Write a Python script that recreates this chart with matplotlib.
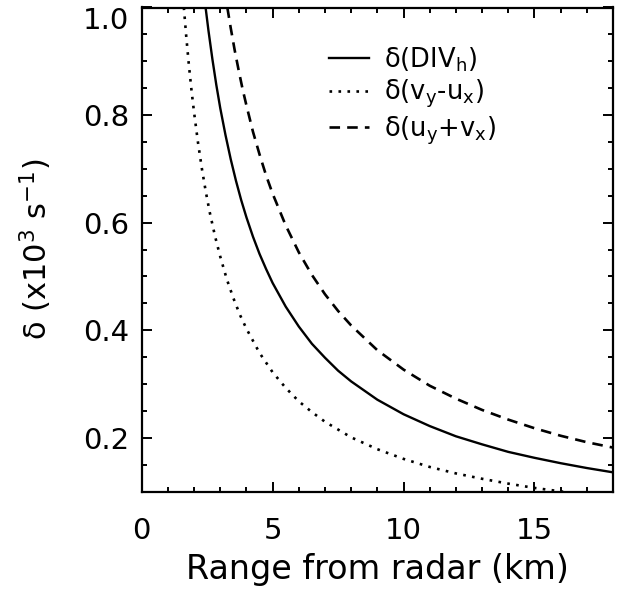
import matplotlib
matplotlib.use("Agg")
import matplotlib.pyplot as plt
from matplotlib.ticker import MultipleLocator

plt.rcParams["font.family"] = ["DejaVu Sans"]
plt.rcParams["mathtext.default"] = "regular"

# values (range in km, delta in 1e-3 s^-1)
div_x = [2.44, 2.55, 2.7, 2.85, 3.0, 3.2, 3.4, 3.6, 3.8, 4.0, 4.25, 4.5, 4.75, 5.0, 5.5,
         6.0, 6.5, 7.0, 7.5, 8.0, 9.0, 10, 11, 12, 13, 14, 15, 16, 17, 18]
div_y = [1.0, 0.957, 0.904, 0.856, 0.813, 0.763, 0.718, 0.678, 0.642, 0.610, 0.574, 0.542, 0.514, 0.488, 0.444,
         0.407, 0.375, 0.349, 0.325, 0.305, 0.271, 0.244, 0.222, 0.203, 0.188, 0.174, 0.163, 0.153, 0.144, 0.136]

vort_x = [1.61, 1.7, 1.8, 1.9, 2.0, 2.15, 2.3, 2.45, 2.6, 2.8, 3.0, 3.25, 3.5, 3.75, 4.0,
          4.5, 5.0, 5.5, 6.0, 6.5, 7.0, 8, 9, 10, 11, 12, 13, 14, 15, 16.1]
vort_y = [1.0, 0.947, 0.894, 0.847, 0.805, 0.749, 0.700, 0.657, 0.619, 0.575, 0.537, 0.495, 0.460, 0.429, 0.403,
          0.358, 0.322, 0.293, 0.268, 0.248, 0.230, 0.201, 0.179, 0.161, 0.146, 0.134, 0.124, 0.115, 0.107, 0.1]

def_x = [3.27, 3.4, 3.55, 3.7, 3.85, 4.0, 4.25, 4.5, 4.75, 5.0, 5.5, 6.0, 6.5,
         7.0, 7.5, 8.0, 9, 10, 11, 12, 13, 14, 15, 16, 17, 18]
def_y = [1.0, 0.962, 0.921, 0.884, 0.849, 0.818, 0.769, 0.727, 0.688, 0.654, 0.595, 0.545, 0.503,
         0.467, 0.436, 0.409, 0.363, 0.327, 0.297, 0.273, 0.252, 0.234, 0.218, 0.204, 0.192, 0.182]

labels = [r"δ(DIV$_h$)", r"δ(v$_y$-u$_x$)", r"δ(u$_y$+v$_x$)"]

fig = plt.figure(figsize=(6.23, 5.91), dpi=100)
ax = fig.add_axes([141.7 / 623, 1 - 491.7 / 591, (613 - 141.7) / 623, (491.7 - 7.5) / 591])

ax.plot(div_x, div_y, color="black", lw=1.7, label=labels[0])
ax.plot(vort_x, vort_y, color="black", lw=1.9, linestyle=(0, (1.0, 2.4)), label=labels[1])
ax.plot(def_x, def_y, color="black", lw=1.9, linestyle=(0, (4.0, 2.7)), label=labels[2])

ax.set_xlim(0, 18)
ax.set_ylim(0.1, 1.0)
ax.set_xticks([0, 5, 10, 15])
ax.set_yticks([0.2, 0.4, 0.6, 0.8, 1.0])
ax.set_yticklabels(["0.2", "0.4", "0.6", "0.8", "1.0"])
ax.xaxis.set_minor_locator(MultipleLocator(1))
ax.yaxis.set_minor_locator(MultipleLocator(0.05))

for s in ax.spines.values():
    s.set_linewidth(1.6)
ax.tick_params(which="both", direction="in", top=True, right=True, width=1.4)
ax.tick_params(which="major", length=7.5, labelsize=21)
ax.tick_params(which="minor", length=3.8)
ax.tick_params(axis="x", which="major", pad=18)
ax.tick_params(axis="y", which="major", pad=9)
ax.get_yticklabels()[-1].set_va("top")

ax.set_xlabel("Range from radar (km)", fontsize=24, labelpad=6)
ax.set_ylabel(r"δ (x10$^{3}$ s$^{-1}$)", fontsize=22, labelpad=21)

ax.legend(loc="upper left", bbox_to_anchor=(329 / 623, 1 - 45 / 591),
          bbox_transform=fig.transFigure, frameon=False, fontsize=18.5,
          handlelength=1.55, handletextpad=0.6, labelspacing=0.17,
          borderpad=0, borderaxespad=0)

fig.savefig("out.png", dpi=100)
